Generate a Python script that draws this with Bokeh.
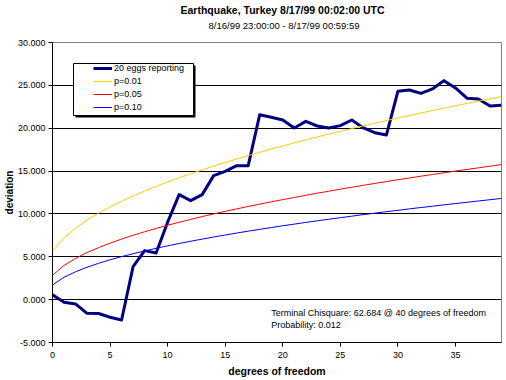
from bokeh.plotting import figure
from bokeh.models import (Range1d, FixedTicker, NumeralTickFormatter, Legend, LegendItem,
                          BoxAnnotation, Label, Title, ColumnDataSource)
from bokeh.embed import file_html
from bokeh.resources import INLINE

# ---------------- data ----------------
dof = list(range(40))
eggs = [0.58, -0.31, -0.50, -1.60, -1.62, -2.06, -2.37, 3.85, 5.72, 5.45,
        9.04, 12.25, 11.55, 12.25, 14.47, 14.97, 15.63, 15.63, 21.58, 21.27,
        20.96, 20.03, 20.80, 20.26, 20.03, 20.30, 20.96, 20.03, 19.48, 19.20,
        24.30, 24.46, 24.07, 24.58, 25.55, 24.70, 23.50, 23.40, 22.60, 22.68]
p01 = [5.63, 7.21, 8.35, 9.28, 10.09, 10.81, 11.48, 12.09, 12.67, 13.21,
       13.73, 14.22, 14.69, 15.14, 15.58, 16.00, 16.41, 16.81, 17.19, 17.57,
       17.93, 18.29, 18.64, 18.98, 19.31, 19.64, 19.96, 20.28, 20.59, 20.89,
       21.19, 21.49, 21.78, 22.06, 22.34, 22.62, 22.89, 23.16, 23.43, 23.69]
p05 = [2.84, 3.99, 4.81, 5.49, 6.07, 6.59, 7.07, 7.51, 7.92, 8.31,
       8.68, 9.03, 9.36, 9.69, 10.00, 10.30, 10.59, 10.87, 11.14, 11.41,
       11.67, 11.92, 12.17, 12.42, 12.65, 12.89, 13.11, 13.34, 13.56, 13.77,
       13.99, 14.19, 14.40, 14.60, 14.80, 15.00, 15.19, 15.38, 15.57, 15.76]
p10 = [1.71, 2.61, 3.25, 3.78, 4.24, 4.65, 5.02, 5.36, 5.68, 5.99,
       6.28, 6.55, 6.81, 7.06, 7.31, 7.54, 7.77, 7.99, 8.20, 8.41,
       8.62, 8.81, 9.01, 9.20, 9.38, 9.56, 9.74, 9.92, 10.09, 10.26,
       10.42, 10.59, 10.75, 10.90, 11.06, 11.21, 11.36, 11.51, 11.66, 11.81]
series_names = ["20 eggs reporting", "p=0.01", "p=0.05", "p=0.10"]
x_ticks = [0, 5, 10, 15, 20, 25, 30, 35]
y_ticks = [-5, 0, 5, 10, 15, 20, 25, 30]
grid_ticks = [0, 5, 10, 15, 20, 25]
title_text = "Earthquake, Turkey 8/17/99 00:02:00 UTC"
subtitle_text = "8/16/99 23:00:00 - 8/17/99 00:59:59"
x_label = "degrees of freedom"
y_label = "deviation"
note_lines = ["Terminal Chisquare: 62.684 @ 40 degrees of freedom", "Probability: 0.012"]

FONT = "Liberation Sans"

p = figure(width=506, height=380, output_backend="svg", toolbar_location=None,
           x_range=Range1d(0, 39), y_range=Range1d(-5, 30),
           min_border_left=52, min_border_right=5, min_border_top=42, min_border_bottom=38)
p.title.text = title_text
p.title.align = "left"
p.title.offset = 128
p.title.standoff = -12
p.title.vertical_align = "bottom"
p.title.text_font = FONT
p.title.text_font_size = "10.5px"
p.title.text_font_style = "bold"
p.title.text_color = "black"
p.add_layout(Title(text=subtitle_text, align="left", offset=156, standoff=20, vertical_align="top",
                   text_font=FONT, text_font_size="9.5px", text_font_style="normal",
                   text_color="black"), "above")

p.background_fill_color = "white"
p.border_fill_color = "white"
p.outline_line_color = "#808080"
p.outline_line_width = 1

src = ColumnDataSource(dict(x=dof, eggs=eggs, p01=p01, p05=p05, p10=p10))
r_eggs = p.line("x", "eggs", source=src, line_color="#000080", line_width=3, line_join="round")
r01 = p.line("x", "p01", source=src, line_color="#FFCC00", line_width=1)
r05 = p.line("x", "p05", source=src, line_color="#FF0000", line_width=1)
r10 = p.line("x", "p10", source=src, line_color="#0000FF", line_width=1)

# axes
xa = p.xaxis[0]
xa.ticker = FixedTicker(ticks=x_ticks)
xa.axis_line_color = "black"
xa.major_tick_line_color = "black"
xa.major_tick_in = 0
xa.major_tick_out = 4
xa.minor_tick_line_color = None
xa.major_label_text_font = FONT
xa.major_label_text_font_size = "9px"
xa.major_label_text_color = "black"
xa.major_label_standoff = 5
xa.axis_label = x_label
xa.axis_label_text_font = FONT
xa.axis_label_text_font_size = "10.5px"
xa.axis_label_text_font_style = "bold"
xa.axis_label_text_color = "black"
xa.axis_label_standoff = 4

ya = p.yaxis[0]
ya.ticker = FixedTicker(ticks=y_ticks)
ya.formatter = NumeralTickFormatter(format="0.000")
ya.axis_line_color = "black"
ya.major_tick_line_color = "black"
ya.major_tick_in = 0
ya.major_tick_out = 4
ya.minor_tick_line_color = None
ya.major_label_text_font = FONT
ya.major_label_text_font_size = "9px"
ya.major_label_text_color = "black"
ya.major_label_standoff = 3
ya.axis_label = y_label
ya.axis_label_text_font = FONT
ya.axis_label_text_font_size = "10px"
ya.axis_label_text_font_style = "bold"
ya.axis_label_text_color = "black"
ya.axis_label_standoff = 0

p.xgrid.visible = False
p.ygrid.ticker = FixedTicker(ticks=grid_ticks)
p.ygrid.grid_line_color = "black"
p.ygrid.grid_line_width = 1

# legend box with shadow (screen units, frame-relative)
shadow = BoxAnnotation(left=23, right=143, top=277, bottom=225,
                       left_units="screen", right_units="screen", top_units="screen", bottom_units="screen",
                       fill_color="black", fill_alpha=1, line_color=None)
box = BoxAnnotation(left=21, right=141, top=279, bottom=227,
                    left_units="screen", right_units="screen", top_units="screen", bottom_units="screen",
                    fill_color="white", fill_alpha=1, line_color="black", line_width=1, line_alpha=1)
p.add_layout(shadow)
p.add_layout(box)

legend = Legend(items=[LegendItem(label=n, renderers=[r]) for n, r in
                       zip(series_names, [r_eggs, r01, r05, r10])],
                location=(41, 229), padding=0, margin=0, spacing=1,
                glyph_width=19, glyph_height=12, label_height=12, label_standoff=2,
                label_text_font=FONT, label_text_font_size="9px", label_text_color="black",
                border_line_alpha=0, background_fill_alpha=0)
p.add_layout(legend)

# note text (data units)
p.add_layout(Label(x=19.0, y=-1.6, text=note_lines[0], text_font=FONT, text_font_size="9px",
                   text_align="left", text_baseline="middle", text_color="black"))
p.add_layout(Label(x=19.0, y=-2.92, text=note_lines[1], text_font=FONT, text_font_size="9px",
                   text_align="left", text_baseline="middle", text_color="black"))

open("out.html", "w").write(file_html(p, INLINE))
